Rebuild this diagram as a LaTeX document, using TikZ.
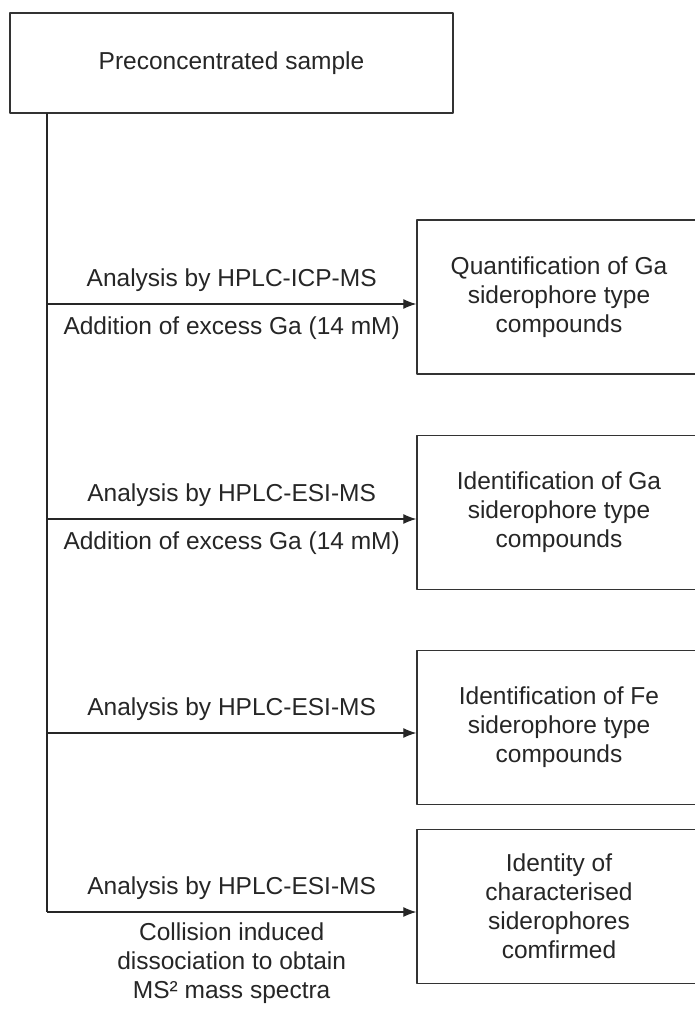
\documentclass[tikz,border=0pt]{standalone}
\usepackage{fontspec}
\setmainfont{Liberation Sans}
\usetikzlibrary{arrows.meta}

\begin{document}
\begin{tikzpicture}[x=1pt, y=1pt, line join=round, >={Latex[length=13pt,width=10pt]},
		every node/.style={font=\fontsize{24.5}{29}\selectfont, text=black!85, inner sep=0pt, align=center},
		box/.style={draw=black!80, line width=1.3pt, fill=white, minimum width=284pt, minimum height=154pt},
		flow/.style={->, line width=1.2pt, draw=black!85}]
				\clip (0,0) rectangle (695,-1010);
				\fill[white] (0,0) rectangle (695,-1010);
				\node[box, minimum width=443pt, minimum height=100pt] (sample) at (231.5,-63) {Preconcentrated sample};
				\node[box] (quant) at (559,-297) {Quantification of Ga\\siderophore type\\compounds};
				\node[box] (identga) at (559,-512.5) {Identification of Ga\\siderophore type\\compounds};
				\node[box] (identfe) at (559,-727.5) {Identification of Fe\\siderophore type\\compounds};
				\node[box] (confirm) at (559,-906.5) {Identity of\\characterised\\siderophores\\comfirmed};
				\coordinate (top) at (47,-113);
				\coordinate (b1) at (47,-304);
				\coordinate (b2) at (47,-519);
				\coordinate (b3) at (47,-733);
				\coordinate (b4) at (47,-912);
				\draw[line width=1.2pt, black!85] (top) -- (b4);
				\draw[flow] (b1) -- (b1 -| quant.west) node[midway, yshift=24pt] {Analysis by HPLC-ICP-MS} node[midway, yshift=-24pt] {Addition of excess Ga (14 mM)};
				\draw[flow] (b2) -- (b2 -| identga.west) node[midway, yshift=24pt] {Analysis by HPLC-ESI-MS} node[midway, yshift=-24pt] {Addition of excess Ga (14 mM)};
				\draw[flow] (b3) -- (b3 -| identfe.west) node[midway, yshift=24pt] {Analysis by HPLC-ESI-MS};
				\draw[flow] (b4) -- (b4 -| confirm.west) node[midway, yshift=24pt] {Analysis by HPLC-ESI-MS} node[midway, yshift=-51pt] {Collision induced\\dissociation to obtain\\MS² mass spectra};
			\end{tikzpicture}
\end{document}
